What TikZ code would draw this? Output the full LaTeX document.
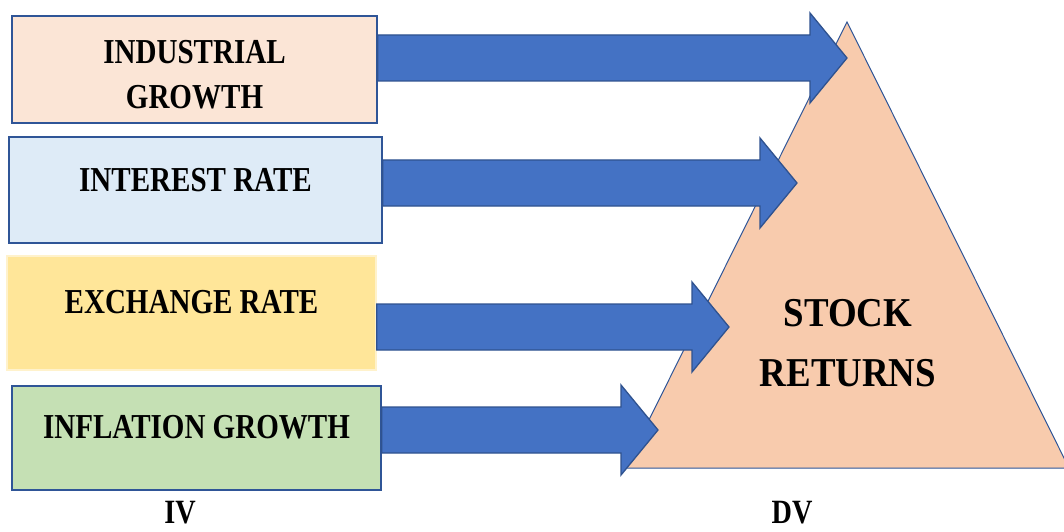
\documentclass[tikz,border=0pt]{standalone}
\usepackage{fontspec}
\setmainfont{Liberation Serif}
\newfontfamily\ivfont[FakeStretch=0.83]{Liberation Serif}
\newfontfamily\dvfont[FakeStretch=0.9]{Liberation Serif}
\usetikzlibrary{calc}
\definecolor{boxline}{HTML}{2F5597}
\definecolor{arrowfill}{HTML}{4472C4}
\definecolor{arrowline}{HTML}{2F528F}
\definecolor{peach}{HTML}{FBE5D6}
\definecolor{paleblue}{HTML}{DEEBF7}
\definecolor{lightgold}{HTML}{FFE699}
\definecolor{palegold}{HTML}{FFF2CC}
\definecolor{palegreen}{HTML}{C5E0B4}
\definecolor{salmon}{HTML}{F8CBAD}
% block arrow from the east side of a box to a tip
\newcommand\blockarrow[2]{%
 \draw[block] let \p1=(#1.east |- #2), \p2=(#2) in
  (\x1,\y1+23pt) -- (\x2-37pt,\y1+23pt) -- (\x2-37pt,\y1+45pt) -- (\p2)
  -- (\x2-37pt,\y1-45pt) -- (\x2-37pt,\y1-23pt) -- (\x1,\y1-23pt) -- cycle;}

\begin{document}
\begin{tikzpicture}[x=1pt,y=1pt,
 ivbox/.style={draw=boxline,line width=1.5pt,inner sep=0pt,
  font=\ivfont\bfseries\fontsize{35}{45}\selectfont},
 block/.style={fill=arrowfill,draw=arrowline,line width=1.3pt,line join=miter}]
 \useasboundingbox (0,0) rectangle (1064,531);
 \clip (0,0) rectangle (1064,531);
 % independent variables
 \node[ivbox,fill=peach,minimum width=365,minimum height=107,align=center,text height=78pt] (ind) at (194.5,461.5) {INDUSTRIAL\\GROWTH};
 \node[ivbox,fill=paleblue,minimum width=373,minimum height=106,text depth=20pt] (int) at (195.5,341) {INTEREST RATE};
 \node[ivbox,fill=lightgold,draw=palegold,minimum width=369,minimum height=114,text depth=22pt] (exc) at (191.5,218) {EXCHANGE RATE};
 \node[ivbox,fill=palegreen,minimum width=369,minimum height=104,text depth=22pt] (inf) at (196.5,93) {INFLATION GROWTH};
 \node[font=\ivfont\bfseries\fontsize{34}{40}\selectfont] (iv) at (180,18) {IV};
 % dependent variable
 \coordinate (apex) at (847,509);
 \coordinate (base left) at (625,63);
 \coordinate (base right) at (1069,63);
 \draw[fill=salmon,draw=boxline,line width=1pt] (apex) -- (base right) -- (base left) -- cycle;
 \node[font=\dvfont\bfseries\fontsize{41}{60}\selectfont,align=center] (stock) at (848,188) {STOCK\\RETURNS};
 \node[font=\ivfont\bfseries\fontsize{34}{40}\selectfont] (dv) at (792,18) {DV};
 % arrows
 \coordinate (tip1) at (847,473);
 \coordinate (tip2) at (797,348);
 \coordinate (tip3) at (729,204);
 \coordinate (tip4) at (658,101);
 \blockarrow{ind}{tip1}
 \blockarrow{int}{tip2}
 \blockarrow{exc}{tip3}
 \blockarrow{inf}{tip4}
\end{tikzpicture}
\end{document}
